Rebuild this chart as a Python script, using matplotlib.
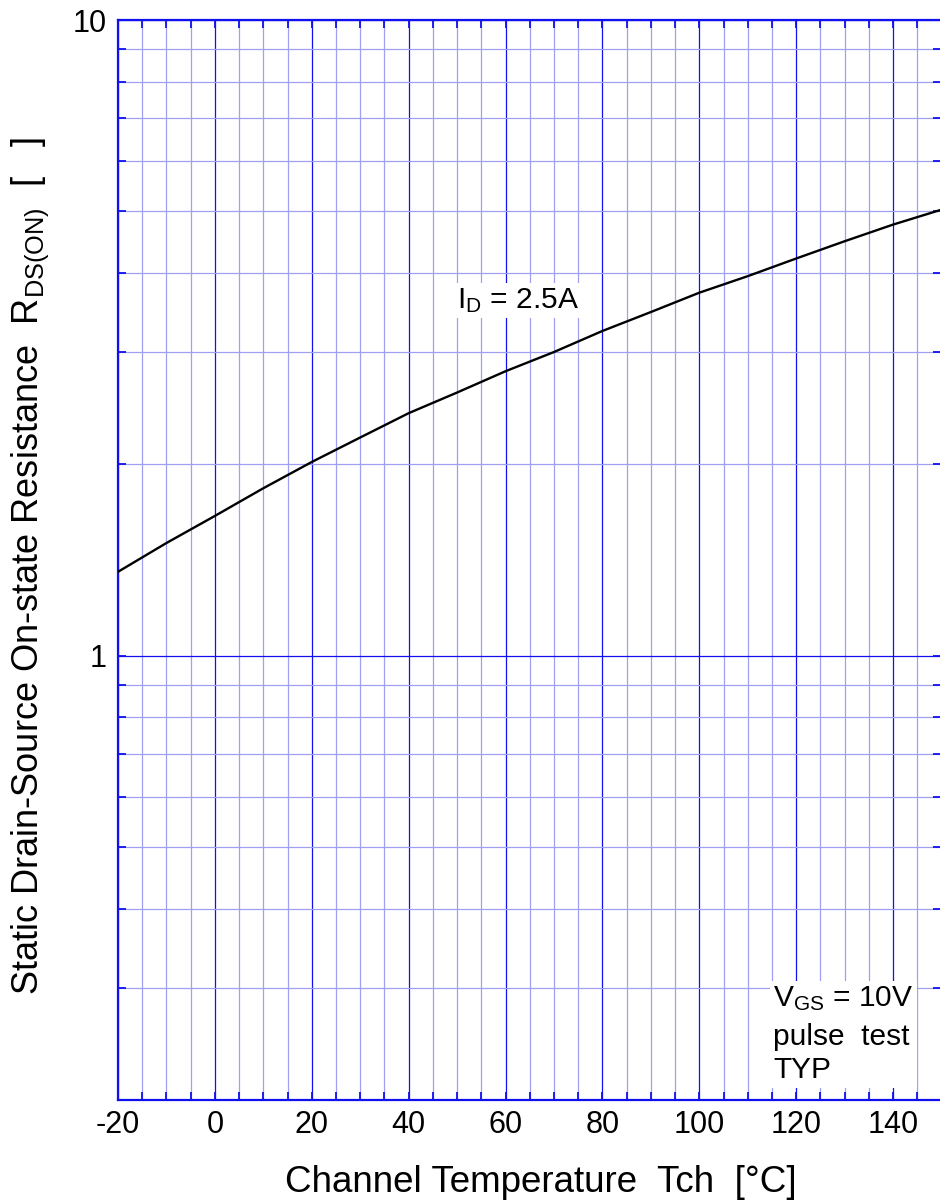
import matplotlib
matplotlib.use("Agg")
import matplotlib.pyplot as plt
from matplotlib.ticker import FixedLocator, NullFormatter, FixedFormatter
from matplotlib.patches import Rectangle

plt.rcParams['font.family'] = ['Liberation Sans', 'DejaVu Sans']
plt.rcParams['mathtext.fontset'] = 'custom'
plt.rcParams['mathtext.rm'] = 'Liberation Sans'

# ---- data ----
temps = [-20, -10, 0, 10, 20, 30, 40, 50, 60, 70, 80, 90, 100, 110, 120, 130, 140, 150]
rds_on = [1.355, 1.504, 1.659, 1.834, 2.017, 2.204, 2.407, 2.594, 2.802, 3.004,
          3.242, 3.472, 3.724, 3.954, 4.215, 4.487, 4.766, 5.031]
x_major = [-20, 0, 20, 40, 60, 80, 100, 120, 140]
x_labels = ['-20', '0', '20', '40', '60', '80', '100', '120', '140']
x_minor = list(range(-20, 151, 5))
y_major = [1, 10]
y_labels = ['1', '10']
y_minor = [0.2, 0.3, 0.4, 0.5, 0.6, 0.7, 0.8, 0.9, 2, 3, 4, 5, 6, 7, 8, 9]

DARK = '#1010f0'
LIGHT = '#a0a0f2'

W, H = 940, 1203
fig = plt.figure(figsize=(W / 100, H / 100), dpi=100)
ax = fig.add_axes([118 / W, 1 - 1100 / H, (941.5 - 118) / W, (1100 - 20) / H])

ax.set_yscale('log')
ax.set_xlim(-20, 150)
ax.set_ylim(0.2, 10)

ax.xaxis.set_major_locator(FixedLocator(x_major))
ax.xaxis.set_major_formatter(FixedFormatter(x_labels))
ax.xaxis.set_minor_locator(FixedLocator(x_minor))
ax.xaxis.set_minor_formatter(NullFormatter())
ax.yaxis.set_major_locator(FixedLocator(y_major))
ax.yaxis.set_major_formatter(FixedFormatter(y_labels))
ax.yaxis.set_minor_locator(FixedLocator(y_minor))
ax.yaxis.set_minor_formatter(NullFormatter())

ax.grid(which='minor', color=LIGHT, linewidth=0.9)
ax.grid(which='major', color=DARK, linewidth=0.9)
ax.set_axisbelow(True)

for s in ax.spines.values():
    s.set_color(DARK)
    s.set_linewidth(1.6)

ax.tick_params(which='both', direction='in', top=True, right=True,
               color=DARK, width=1.3, length=6, labelsize=22,
               labelcolor='black')
ax.tick_params(axis='x', which='both', pad=7.5)
ax.tick_params(axis='y', which='both', pad=8)

ax.plot(temps, rds_on, color='black', linewidth=1.7, zorder=3)

ax.text(50, 3.62, r'$\mathregular{I_D}$ = 2.5A', fontsize=21.5, ha='left', va='center',
        bbox=dict(facecolor='white', edgecolor='none', pad=2), zorder=4)

ax.add_patch(Rectangle((114.6, 0.209), 30.3, 0.3077 - 0.209, facecolor='white',
                       edgecolor='none', zorder=4))
ax.text(115.2, 0.281, r'$\mathregular{V_{GS}}$ = 10V', fontsize=21.5, ha='left',
        va='baseline', zorder=5)
ax.text(115.2, 0.2445, 'pulse  test', fontsize=21.5, ha='left', va='baseline', zorder=5)
ax.text(115.2, 0.2168, 'TYP', fontsize=21.5, ha='left', va='baseline', zorder=5)

fig.text(541 / W, 1 - 1192 / H, 'Channel Temperature  Tch  [°C]', fontsize=26.5,
         ha='center', va='baseline')
fig.text(30 / W, 1 - 566 / H,
         r'Static Drain-Source On-state Resistance  $\mathregular{R_{DS(ON)}}$  [   ]',
         fontsize=26, rotation=90, ha='center', va='center')

fig.savefig('out.png', dpi=100)
